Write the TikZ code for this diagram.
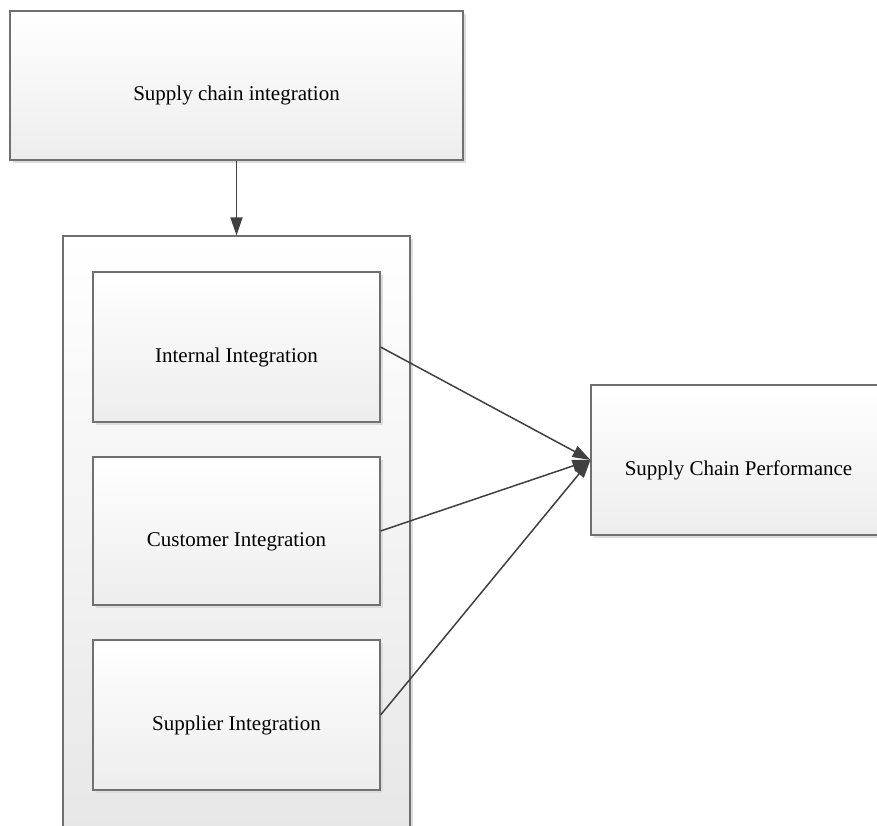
\documentclass[tikz,border=0pt]{standalone}
\usepackage{fontspec}
\setmainfont{Liberation Serif}
\usetikzlibrary{arrows.meta,shadows}
\definecolor{edgegray}{HTML}{707070}
\definecolor{linkgray}{HTML}{404040}
\definecolor{fillbot}{HTML}{EDEDED}
\definecolor{shadowgray}{HTML}{DCDCDC}
\tikzset{
  box/.style={draw=edgegray, line width=1.1pt, rectangle, inner sep=0pt,
    top color=white, bottom color=fillbot, font=\fontsize{21}{24}\selectfont,
    text height=30pt, text depth=0pt,
    drop shadow={shadow xshift=3pt, shadow yshift=-3pt, fill=shadowgray, opacity=1}},
  link/.style={draw=linkgray, line width=1.5pt,
    -{Triangle[length=18pt,width=12pt]}}
}
\begin{document}
\begin{tikzpicture}[x=1pt,y=-1pt]
  \useasboundingbox (0,0) rectangle (877,825);
  \clip (0,0) rectangle (877,825);
  % top-level concept
  \node[box, minimum width=453pt, minimum height=149pt] (sci) at (236.5,85.5) {Supply chain integration};
  % grouping frame holding the three dimensions
  \node[box, minimum width=347pt, minimum height=620pt, bottom color=fillbot!90!black!60!white] (grp) at (236.5,546) {};
  \node[box, minimum width=287pt, minimum height=150pt] (ii) at (236.5,347) {Internal Integration};
  \node[box, minimum width=287pt, minimum height=148pt] (ci) at (236.5,531) {Customer Integration};
  \node[box, minimum width=287pt, minimum height=150pt] (si) at (236.5,715) {Supplier Integration};
  % outcome
  \node[box, minimum width=295pt, minimum height=150pt] (scp) at (738.5,460) {Supply Chain Performance};
  % connectors
  \draw[link] (sci.south) -- (grp.north);
  \draw[link] (ii.east) -- (scp.west);
  \draw[link] (ci.east) -- (scp.west);
  \draw[link] (si.east) -- (scp.west);
\end{tikzpicture}
\end{document}
